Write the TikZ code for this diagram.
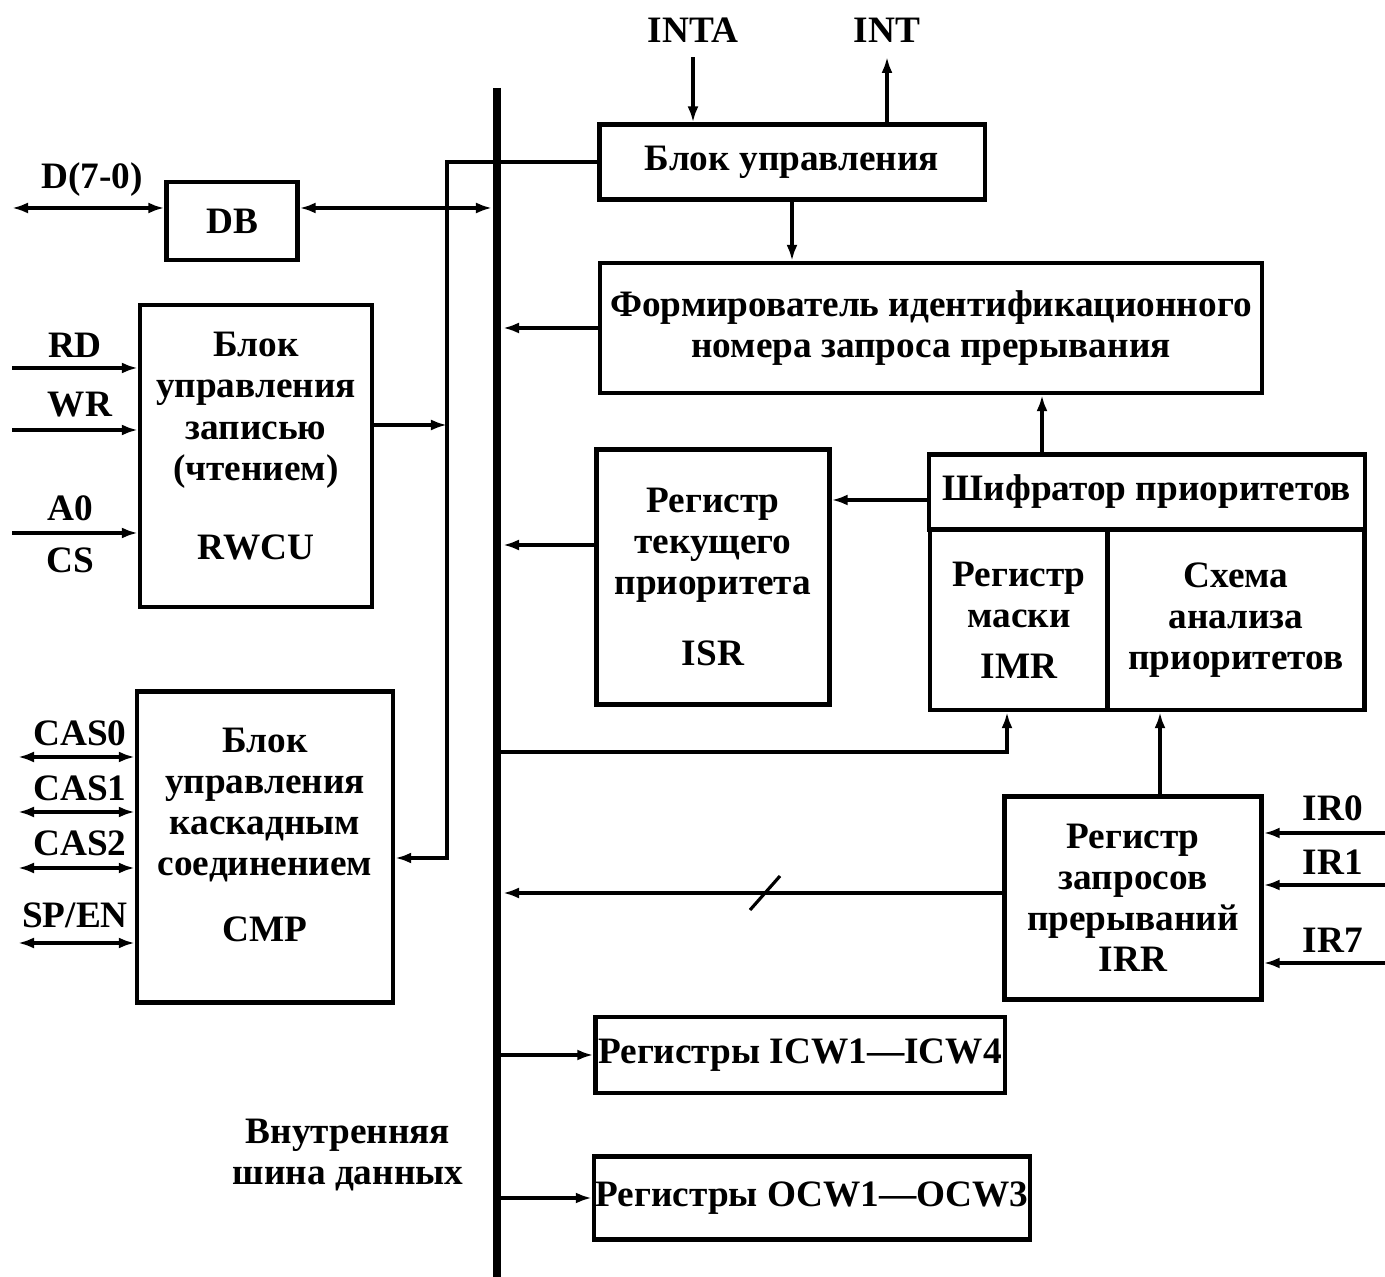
\documentclass[tikz,border=0pt]{standalone}
\usepackage{fontspec}
\setmainfont{Liberation Serif}
\usetikzlibrary{arrows.meta,positioning,calc}

\tikzset{
    blk/.style={rectangle, draw, line width=1.2pt, align=center, inner sep=0pt},
    pin/.style={inner sep=0pt, align=center},
    wire/.style={line width=0.9pt},
    arr/.style={wire, -{Latex[length=1.6mm,width=1.1mm]}},
    biarr/.style={wire, {Latex[length=1.6mm,width=1.1mm]}-{Latex[length=1.6mm,width=1.1mm]}},
    bus/.style={line width=2.4pt}
}

\begin{document}
\begin{tikzpicture}[x=0.01cm, y=-0.01cm, font=\fontsize{10.6}{11.7}\selectfont\bfseries]
    \useasboundingbox (0,0) rectangle (1385,1277);

    % Left blocks
    \node[blk, minimum width=1.31cm, minimum height=0.78cm] (db) at (232,221) {DB};
    \node[blk, minimum width=2.32cm, minimum height=3.02cm] (rwcu) at (256,456) {Блок\\управления\\записью\\(чтением)\\[0.38cm]RWCU\\[-0.21cm]};
    \node[blk, minimum width=2.56cm, minimum height=3.11cm] (cmp) at (265,847) {Блок\\управления\\каскадным\\соединением\\[0.25cm]CMP\\[-0.17cm]};

    % Right blocks
    \node[blk, minimum width=3.85cm, minimum height=0.75cm] (ctrl) at (792,162) {Блок управления};
    \node[blk, minimum width=6.62cm, minimum height=1.30cm] (former) at (931,328) {Формирователь идентификационного\\номера запроса прерывания};
    \node[blk, minimum width=2.33cm, minimum height=2.55cm] (isr) at (713,577) {Регистр\\текущего\\приоритета\\[0.3cm]ISR};
    \node[blk, minimum width=4.35cm, minimum height=0.75cm] (enc) at (1147,492) {Шифратор приоритетов};
    \node[blk, minimum width=1.78cm, minimum height=1.80cm] (imr) at (1019,620) {Регистр\\маски\\[0.1cm]IMR};
    \node[blk, minimum width=2.57cm, minimum height=1.80cm] (pra) at (1236,620) {Схема\\анализа\\приоритетов};
    \node[blk, minimum width=2.57cm, minimum height=2.03cm] (irr) at (1133,898) {Регистр\\запросов\\прерываний\\IRR};
    \node[blk, minimum width=4.09cm, minimum height=0.76cm] (icw) at (800,1055) {Регистры ICW1—ICW4};
    \node[blk, minimum width=4.36cm, minimum height=0.83cm] (ocw) at (812,1198) {Регистры OCW1—OCW3};

    % Pin labels
    \node[pin] (lD) at (92,180) {D(7-0)};
    \node[pin] (lRD) at (75,345) {RD};
    \node[pin] (lWR) at (80,405) {WR};
    \node[pin] (lA0) at (70,508) {A0};
    \node[pin] (lCS) at (70,560) {CS};
    \node[pin] (lCAS0) at (80,733) {CAS0};
    \node[pin] (lCAS1) at (80,788) {CAS1};
    \node[pin] (lCAS2) at (80,843) {CAS2};
    \node[pin] (lSP) at (75,915) {SP/EN};
    \node[pin] (lINTA) at (693,30) {INTA};
    \node[pin] (lINT) at (887,30) {INT};
    \node[pin] (lIR0) at (1333,808) {IR0};
    \node[pin] (lIR1) at (1333,862) {IR1};
    \node[pin] (lIR7) at (1333,940) {IR7};
    \node[pin] (lbus) at (348,1155) {Внутренняя\\шина данных};

    % Bus and pin ends
    \coordinate (bt) at (497,88);
    \coordinate (bb) at (497,1277);
    \coordinate (bl) at (492,0);
    \coordinate (br) at (503,0);
    \coordinate (jt) at (447,162);
    \coordinate (jb) at (447,858);
    \coordinate (pD) at (12,208);
    \coordinate (pRD) at (12,368);
    \coordinate (pWR) at (12,430);
    \coordinate (pA0) at (12,533);
    \coordinate (pC0) at (18,757);
    \coordinate (pC1) at (18,812);
    \coordinate (pC2) at (18,868);
    \coordinate (pSP) at (18,943);
    \coordinate (pIR0) at (1385,833);
    \coordinate (pIR1) at (1385,885);
    \coordinate (pIR7) at (1385,963);

    \draw[bus] (bt) -- (bb);

    % Left side
    \draw[biarr] (pD) -- (pD -| db.west);
    \draw[biarr] (db.east |- pD) -- (pD -| bl);
    \draw[arr] (pRD) -- (pRD -| rwcu.west);
    \draw[arr] (pWR) -- (pWR -| rwcu.west);
    \draw[arr] (pA0) -- (pA0 -| rwcu.west);
    \draw[arr] (rwcu.east |- 0,425) -- (jt |- 0,425);
    \draw[arr] (ctrl.west) -- (jt) -- (jb) -- (jb -| cmp.east);
    \draw[biarr] (pC0) -- (pC0 -| cmp.west);
    \draw[biarr] (pC1) -- (pC1 -| cmp.west);
    \draw[biarr] (pC2) -- (pC2 -| cmp.west);
    \draw[biarr] (pSP) -- (pSP -| cmp.west);

    % Right side
    \draw[arr] ([yshift=-4pt]lINTA.south) -- (lINTA.south |- ctrl.north);
    \draw[arr] (lINT.south |- ctrl.north) -- ([yshift=-4pt]lINT.south);
    \draw[arr] (ctrl.south) -- (ctrl.south |- former.north);
    \draw[arr] (former.west) -- (former.west -| br);
    \draw[arr] (enc.north -| 1042,0) -- (former.south -| 1042,0);
    \draw[arr] (enc.west |- 0,500) -- (isr.east |- 0,500);
    \draw[arr] (isr.west |- 0,545) -- (br |- 0,545);
    \draw[arr] (bt |- 0,752) -| (imr.south -| 1007,0);
    \draw[arr] (irr.north -| 1160,0) -- (pra.south -| 1160,0);
    \draw[arr] (irr.west |- 0,893) -- (br |- 0,893);
    \draw[wire] (750,910) -- (780,876);
    \draw[arr] (pIR0) -- (pIR0 -| irr.east);
    \draw[arr] (pIR1) -- (pIR1 -| irr.east);
    \draw[arr] (pIR7) -- (pIR7 -| irr.east);
    \draw[arr] (bt |- icw.west) -- (icw.west);
    \draw[arr] (bt |- ocw.west) -- (ocw.west);
\end{tikzpicture}
\end{document}
